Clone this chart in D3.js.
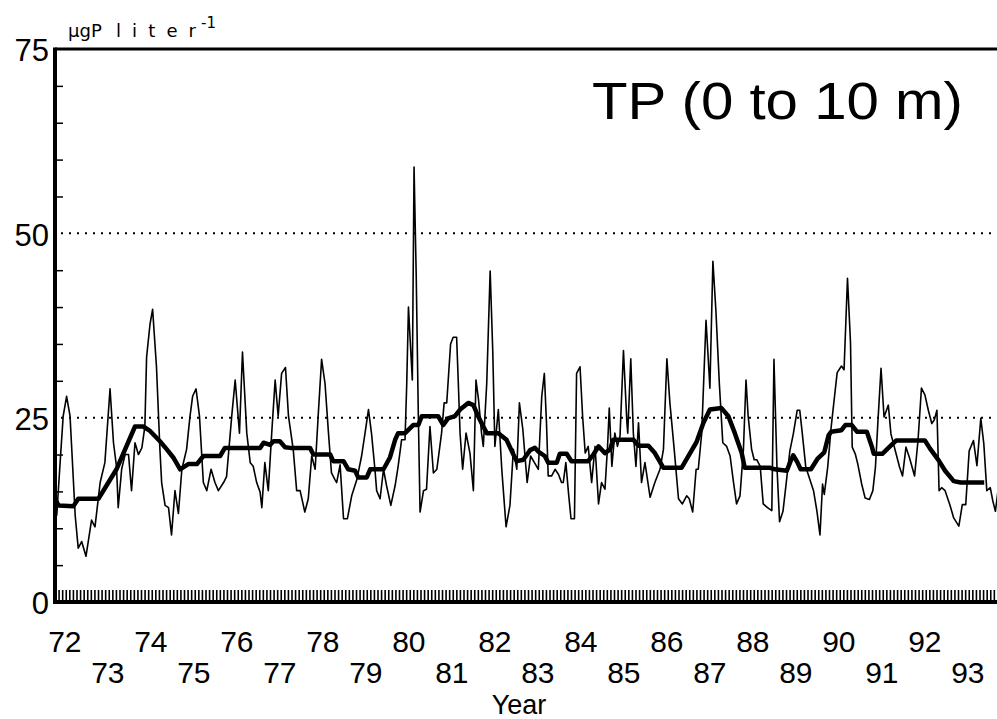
<!DOCTYPE html>
<html>
<head>
<meta charset="utf-8">
<script src="https://cdn.jsdelivr.net/npm/d3@7"></script>
<style>
  html, body { margin: 0; padding: 0; background: #fff; }
  svg { display: block; }
  text { font-family: "Liberation Sans", Arial, Helvetica, sans-serif; fill: #000; }
</style>
</head>
<body>
<svg id="chart" width="997" height="719"></svg>
<script>
const WIDTH = 997;
const HEIGHT = 719;

// total phosphorus, 0-10 m, samples as [decimal year, µgP/l]
const tpSamples = [
    [1972.04, 11.7], [1972.12, 19.0], [1972.19, 25.2], [1972.27, 27.9], [1972.35, 25.2], [1972.43, 16.2],
    [1972.47, 11.7], [1972.54, 7.3], [1972.62, 8.2], [1972.72, 6.2], [1972.85, 11.1], [1972.93, 10.2],
    [1973.05, 16.2], [1973.16, 18.9], [1973.28, 28.9], [1973.36, 21.6], [1973.43, 18.4], [1973.47, 12.8],
    [1973.55, 18.0], [1973.63, 20.0], [1973.71, 20.0], [1973.78, 15.1], [1973.86, 21.6], [1973.94, 20.0],
    [1974.02, 20.9], [1974.09, 23.8], [1974.13, 33.2], [1974.21, 37.7], [1974.27, 39.7], [1974.36, 31.9],
    [1974.44, 20.7], [1974.48, 16.2], [1974.56, 13.1], [1974.64, 12.8], [1974.71, 9.1], [1974.79, 15.1],
    [1974.87, 12.0], [1974.95, 18.0], [1975.06, 20.7], [1975.14, 25.2], [1975.20, 27.9], [1975.28, 28.9],
    [1975.36, 25.2], [1975.45, 16.2], [1975.53, 15.1], [1975.63, 18.0], [1975.72, 16.2], [1975.80, 15.1],
    [1975.92, 16.2], [1975.99, 17.0], [1976.11, 25.2], [1976.19, 30.1], [1976.29, 22.9], [1976.36, 33.9],
    [1976.46, 22.9], [1976.54, 18.9], [1976.61, 18.4], [1976.69, 16.2], [1976.77, 14.9], [1976.81, 12.8],
    [1976.88, 18.9], [1976.96, 15.1], [1977.04, 22.9], [1977.12, 30.1], [1977.19, 25.2], [1977.27, 31.0],
    [1977.36, 31.8], [1977.43, 25.2], [1977.54, 20.7], [1977.62, 15.1], [1977.70, 15.1], [1977.81, 12.2],
    [1977.89, 14.0], [1977.97, 19.8], [1978.05, 18.0], [1978.12, 25.2], [1978.20, 32.9], [1978.28, 29.6],
    [1978.36, 22.9], [1978.43, 17.5], [1978.51, 16.6], [1978.55, 16.2], [1978.63, 18.6], [1978.71, 11.3],
    [1978.80, 11.3], [1978.90, 14.4], [1979.02, 16.6], [1979.13, 19.8], [1979.21, 22.9], [1979.29, 26.1],
    [1979.36, 22.9], [1979.44, 18.0], [1979.48, 15.1], [1979.56, 14.0], [1979.64, 18.0], [1979.71, 15.8],
    [1979.81, 13.1], [1979.91, 15.8], [1979.98, 18.4], [1980.06, 22.0], [1980.14, 22.0], [1980.18, 29.6],
    [1980.22, 40.0], [1980.26, 35.5], [1980.31, 30.1], [1980.35, 59.0], [1980.40, 44.4], [1980.45, 25.2],
    [1980.49, 12.2], [1980.57, 15.1], [1980.64, 15.3], [1980.72, 23.8], [1980.80, 17.5], [1980.88, 18.0],
    [1980.99, 22.9], [1981.05, 27.0], [1981.11, 27.0], [1981.20, 35.0], [1981.26, 35.9], [1981.34, 35.9],
    [1981.38, 29.6], [1981.42, 22.9], [1981.48, 18.0], [1981.56, 22.9], [1981.65, 20.2], [1981.73, 15.1],
    [1981.79, 30.1], [1981.85, 27.4], [1981.92, 22.9], [1981.96, 21.1], [1982.04, 29.6], [1982.12, 44.9],
    [1982.18, 34.1], [1982.23, 21.1], [1982.31, 26.1], [1982.39, 18.0], [1982.49, 10.2], [1982.58, 13.1],
    [1982.66, 20.7], [1982.74, 18.0], [1982.80, 27.0], [1982.88, 23.4], [1982.98, 16.2], [1983.06, 19.8],
    [1983.14, 19.0], [1983.24, 18.0], [1983.32, 27.9], [1983.38, 31.0], [1983.43, 24.3], [1983.47, 17.1],
    [1983.55, 17.1], [1983.63, 18.0], [1983.71, 17.3], [1983.78, 16.2], [1983.82, 16.2], [1983.88, 18.9],
    [1983.94, 14.9], [1984.00, 11.3], [1984.08, 11.3], [1984.13, 31.0], [1984.21, 31.9], [1984.27, 25.2],
    [1984.33, 20.2], [1984.40, 21.1], [1984.48, 16.2], [1984.56, 21.1], [1984.64, 13.3], [1984.71, 16.2],
    [1984.79, 15.3], [1984.85, 21.1], [1984.89, 26.3], [1984.95, 18.4], [1985.02, 22.9], [1985.08, 21.1],
    [1985.14, 22.5], [1985.22, 34.1], [1985.30, 24.3], [1985.32, 22.9], [1985.39, 33.0], [1985.45, 22.9],
    [1985.51, 18.4], [1985.57, 24.3], [1985.64, 16.2], [1985.72, 18.9], [1985.84, 14.2], [1985.95, 16.2],
    [1986.07, 18.0], [1986.15, 20.7], [1986.23, 33.0], [1986.30, 27.0], [1986.40, 20.7], [1986.50, 14.0],
    [1986.59, 13.3], [1986.69, 14.4], [1986.75, 14.0], [1986.83, 12.2], [1986.91, 18.0], [1986.96, 18.0],
    [1987.04, 22.9], [1987.14, 38.2], [1987.19, 33.2], [1987.23, 29.0], [1987.30, 46.2], [1987.37, 39.5],
    [1987.45, 29.6], [1987.53, 21.6], [1987.62, 21.1], [1987.70, 19.8], [1987.78, 16.2], [1987.85, 13.3],
    [1987.93, 14.4], [1988.01, 20.7], [1988.07, 30.1], [1988.12, 25.2], [1988.20, 20.7], [1988.26, 19.3],
    [1988.32, 19.3], [1988.40, 18.4], [1988.47, 13.3], [1988.57, 12.8], [1988.67, 12.4], [1988.72, 32.9],
    [1988.79, 18.3], [1988.85, 10.9], [1988.93, 12.3], [1989.01, 16.4], [1989.09, 20.5], [1989.17, 22.8],
    [1989.26, 26.0], [1989.32, 26.0], [1989.38, 22.8], [1989.46, 18.3], [1989.54, 16.9], [1989.64, 15.1],
    [1989.72, 12.3], [1989.79, 9.1], [1989.85, 16.0], [1989.89, 14.6], [1989.97, 18.3], [1990.05, 23.7],
    [1990.11, 26.9], [1990.19, 31.1], [1990.29, 32.0], [1990.35, 31.5], [1990.43, 43.9], [1990.50, 35.2],
    [1990.54, 21.0], [1990.61, 20.1], [1990.67, 18.7], [1990.76, 16.0], [1990.84, 14.1], [1990.94, 13.9],
    [1991.02, 15.1], [1991.08, 18.3], [1991.14, 24.7], [1991.21, 31.7], [1991.28, 25.1], [1991.38, 26.7],
    [1991.44, 22.8], [1991.56, 20.1], [1991.64, 18.3], [1991.71, 17.1], [1991.79, 21.0], [1991.87, 19.6],
    [1991.99, 17.1], [1992.07, 21.9], [1992.15, 29.0], [1992.23, 28.1], [1992.31, 26.0], [1992.39, 24.2],
    [1992.45, 24.7], [1992.51, 26.0], [1992.56, 15.1], [1992.62, 15.5], [1992.70, 15.1], [1992.81, 13.2],
    [1992.90, 11.4], [1993.02, 10.3], [1993.10, 13.2], [1993.18, 13.2], [1993.26, 20.5], [1993.36, 21.9],
    [1993.44, 18.5], [1993.53, 24.9], [1993.60, 21.5], [1993.67, 15.1], [1993.75, 15.5], [1993.81, 13.7],
    [1993.87, 12.3], [1993.93, 15.1], [1994.00, 13.7]
];

// the heavy line, a running annual mean
const tpRunningMean = [
    [1972.00, 14.0], [1972.08, 13.1], [1972.43, 13.0], [1972.54, 14.0], [1973.01, 14.0], [1973.43, 18.0],
    [1973.86, 23.8], [1974.05, 23.8], [1974.21, 23.2], [1974.44, 21.8], [1974.60, 20.7], [1974.75, 19.6],
    [1974.91, 18.0], [1975.10, 18.7], [1975.30, 18.7], [1975.45, 19.8], [1975.84, 19.8], [1975.95, 20.9],
    [1976.77, 20.9], [1976.85, 21.6], [1977.00, 21.3], [1977.08, 21.8], [1977.23, 21.8], [1977.35, 21.0],
    [1977.47, 20.9], [1977.93, 20.9], [1978.01, 20.0], [1978.40, 20.0], [1978.47, 19.1], [1978.71, 19.1],
    [1978.82, 18.0], [1978.98, 17.8], [1979.05, 16.9], [1979.25, 16.9], [1979.33, 18.0], [1979.64, 18.0],
    [1979.79, 19.6], [1979.91, 22.0], [1979.98, 22.9], [1980.14, 22.9], [1980.33, 24.0], [1980.45, 24.0],
    [1980.53, 25.2], [1980.91, 25.2], [1981.03, 24.0], [1981.14, 24.9], [1981.30, 25.2], [1981.42, 26.1],
    [1981.61, 27.0], [1981.73, 26.7], [1981.84, 25.2], [1981.96, 23.8], [1982.04, 22.9], [1982.31, 22.9],
    [1982.50, 22.0], [1982.66, 20.0], [1982.74, 19.1], [1982.89, 19.3], [1983.05, 20.6], [1983.16, 20.9],
    [1983.24, 20.4], [1983.39, 19.8], [1983.47, 18.9], [1983.67, 18.9], [1983.74, 20.1], [1983.90, 20.1],
    [1984.01, 19.1], [1984.40, 19.1], [1984.52, 20.0], [1984.64, 21.1], [1984.79, 20.2], [1984.91, 20.7],
    [1984.98, 22.0], [1985.45, 22.0], [1985.57, 21.2], [1985.80, 21.2], [1985.95, 20.2], [1986.15, 18.2],
    [1986.57, 18.2], [1986.77, 20.2], [1986.92, 21.7], [1987.08, 24.3], [1987.23, 26.1], [1987.50, 26.3],
    [1987.66, 25.2], [1987.81, 22.9], [1987.97, 20.2], [1988.04, 18.2], [1988.63, 18.2], [1988.74, 18.0],
    [1989.02, 17.8], [1989.10, 19.0], [1989.17, 19.9], [1989.26, 19.0], [1989.34, 18.0], [1989.58, 18.0],
    [1989.73, 19.4], [1989.89, 20.3], [1989.99, 22.6], [1990.05, 23.1], [1990.29, 23.3], [1990.38, 24.0],
    [1990.53, 24.0], [1990.65, 23.1], [1990.88, 23.1], [1991.00, 21.0], [1991.04, 20.1], [1991.24, 20.1],
    [1991.40, 21.0], [1991.56, 21.9], [1992.23, 21.9], [1992.35, 20.8], [1992.55, 19.2], [1992.70, 17.8],
    [1992.90, 16.4], [1993.06, 16.2], [1993.61, 16.2]
];

const years = d3.range(1972, 1994);
const yearLabels = years.map(y => String(y).slice(2));
const yLabelTicks = [0, 25, 50, 75];
const yMinorTicks = [5, 10, 15, 20, 30, 35, 40, 45, 55, 60, 65, 70];
const gridValues = [25, 50];

const plotLeft = 55;
const plotTop = 49;
const plotBottom = 602;

const x = d3.scaleLinear().domain([1972, 1994]).range([plotLeft, plotLeft + 43 * 22]);
const y = d3.scaleLinear().domain([0, 75]).range([plotBottom, plotTop]);

const svg = d3.select("#chart");

svg.append("defs").append("clipPath")
    .attr("id", "plot-clip")
    .append("rect")
    .attr("x", plotLeft)
    .attr("y", plotTop)
    .attr("width", WIDTH - plotLeft)
    .attr("height", plotBottom - plotTop);

// dotted reference lines
svg.append("g")
    .selectAll("line")
    .data(gridValues)
    .join("line")
    .attr("x1", plotLeft + 6)
    .attr("x2", WIDTH)
    .attr("y1", d => y(d))
    .attr("y2", d => y(d))
    .attr("stroke", "#000")
    .attr("stroke-width", 2)
    .attr("stroke-dasharray", "2,6");

const plot = svg.append("g").attr("clip-path", "url(#plot-clip)");

const line = d3.line()
    .x(d => x(d[0]))
    .y(d => y(d[1]));

plot.append("path")
    .datum(tpSamples)
    .attr("fill", "none")
    .attr("stroke", "#000")
    .attr("stroke-width", 1.6)
    .attr("stroke-linejoin", "round")
    .attr("d", line);

plot.append("path")
    .datum(tpRunningMean)
    .attr("fill", "none")
    .attr("stroke", "#000")
    .attr("stroke-width", 4.5)
    .attr("stroke-linejoin", "round")
    .attr("d", line);

// monthly ticks along the bottom
const monthTicks = d3.range(0, 22 * 12 + 1).map(i => 1972 + i / 12);
const xAxis = svg.append("g")
    .attr("transform", `translate(0,${plotBottom})`)
    .call(d3.axisTop(x).tickValues(monthTicks).tickSize(12).tickFormat(""));
xAxis.select(".domain").remove();
xAxis.selectAll(".tick line").attr("stroke-width", 1.6);

// frame: left, top and bottom rules
svg.append("line")
    .attr("x1", plotLeft - 1).attr("x2", WIDTH)
    .attr("y1", plotBottom).attr("y2", plotBottom)
    .attr("stroke", "#000").attr("stroke-width", 4);
svg.append("line")
    .attr("x1", plotLeft).attr("x2", WIDTH)
    .attr("y1", plotTop).attr("y2", plotTop)
    .attr("stroke", "#000").attr("stroke-width", 3);
svg.append("line")
    .attr("x1", plotLeft).attr("x2", plotLeft)
    .attr("y1", plotTop - 1.5).attr("y2", plotBottom + 2)
    .attr("stroke", "#000").attr("stroke-width", 4);

// minor ticks on the y axis, pointing inward
const yMinor = svg.append("g")
    .attr("transform", `translate(${plotLeft},0)`)
    .call(d3.axisRight(y).tickValues(yMinorTicks).tickSize(8).tickFormat(""));
yMinor.select(".domain").remove();
yMinor.selectAll(".tick line").attr("stroke-width", 1.5);

// y labels
const yAxis = svg.append("g")
    .attr("transform", `translate(${plotLeft - 4},2)`)
    .call(d3.axisLeft(y).tickValues(yLabelTicks).tickSize(0).tickPadding(2));
yAxis.select(".domain").remove();
yAxis.selectAll("text")
    .style("font-size", "31px")
    .style("font-family", "'Liberation Sans', Arial, sans-serif");

// year labels, staggered on two rows
svg.append("g")
    .selectAll("text")
    .data(years)
    .join("text")
    .attr("x", d => x(d + 0.23))
    .attr("y", (d, i) => i % 2 === 0 ? 652 : 683)
    .attr("text-anchor", "middle")
    .style("font-size", "30px")
    .text((d, i) => yearLabels[i]);

svg.append("text")
    .attr("x", 519)
    .attr("y", 714)
    .attr("text-anchor", "middle")
    .style("font-size", "27px")
    .text("Year");

// unit label
const unit = svg.append("text")
    .attr("x", 68)
    .attr("y", 37)
    .style("font-family", "'DejaVu Sans', sans-serif")
    .style("font-size", "18px");
unit.append("tspan").text("µgP");
unit.append("tspan")
    .attr("x", 116)
    .attr("textLength", 80)
    .attr("lengthAdjust", "spacing")
    .text("liter");
unit.append("tspan")
    .attr("x", 201)
    .attr("y", 28)
    .style("font-size", "15px")
    .text("-1");

svg.append("text")
    .attr("x", 592)
    .attr("y", 119)
    .attr("textLength", 371)
    .attr("lengthAdjust", "spacingAndGlyphs")
    .style("font-size", "51px")
    .text("TP (0 to 10 m)");
</script>
</body>
</html>
